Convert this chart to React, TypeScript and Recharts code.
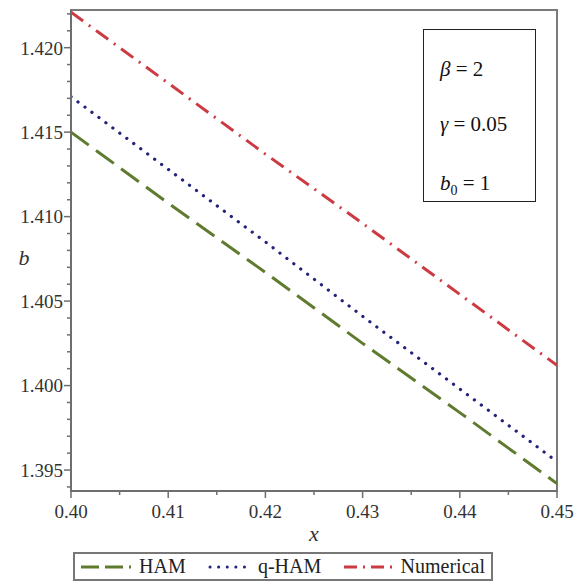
import React from 'react';
import { LineChart, Line, XAxis, YAxis, Legend, ReferenceArea, Label } from 'recharts';

const xValues = [0.40, 0.41, 0.42, 0.43, 0.44, 0.45];
const hamValues = [1.4150, 1.4108, 1.4067, 1.4025, 1.3984, 1.3942];
const qhamValues = [1.4171, 1.4128, 1.4085, 1.4041, 1.3998, 1.3955];
const numericalValues = [1.4221, 1.4179, 1.4137, 1.4096, 1.4054, 1.4012];

const xMajorTicks = [0.40, 0.41, 0.42, 0.43, 0.44, 0.45];
const yMajorTicks = [1.395, 1.400, 1.405, 1.410, 1.415, 1.420];
const xDomain = [0.40, 0.45];
const yDomain = [1.39376, 1.42223];

const data = xValues.map((x, i) => ({
  x,
  HAM: hamValues[i],
  qHAM: qhamValues[i],
  Numerical: numericalValues[i],
}));

// minor ticks: x every 0.005, y every 0.001
const xTicks: number[] = [];
for (let k = 0; k <= 10; k++) xTicks.push(Math.round((0.40 + k * 0.005) * 1000) / 1000);
const yTicks: number[] = [];
for (let k = 0; k <= 28; k++) yTicks.push(Math.round((1.394 + k * 0.001) * 1000) / 1000);

const isMajorX = (v: number) => xMajorTicks.some((t) => Math.abs(t - v) < 1e-6);
const isMajorY = (v: number) => yMajorTicks.some((t) => Math.abs(t - v) < 1e-6);

const FONT = '"Times New Roman", Times, "Liberation Serif", Tinos, "Noto Serif", "DejaVu Serif", serif';
const AXIS = '#6e6e6e';

const COLORS = {
  HAM: '#5f7b2f',
  qHAM: '#23237a',
  Numerical: '#cc3a42',
};

const YTick = (props: any) => {
  const { x, y, payload } = props;
  const v = payload.value;
  const major = isMajorY(v);
  return (
    <g>
      <line x1={x - (major ? 7 : 4)} x2={x} y1={y} y2={y} stroke={AXIS} strokeWidth={1.5} />
      {major && (
        <text x={x - 8} y={y} dy="0.36em" textAnchor="end" style={{ fontFamily: FONT }} fontSize={19} fill="#333">
          {v.toFixed(3)}
        </text>
      )}
    </g>
  );
};

const XTick = (props: any) => {
  const { x, y, payload } = props;
  const v = payload.value;
  const major = isMajorX(v);
  return (
    <g>
      <line x1={x} x2={x} y1={y} y2={y + (major ? 7 : 4)} stroke={AXIS} strokeWidth={1.5} />
      {major && (
        <text x={x} y={y + 27} textAnchor="middle" style={{ fontFamily: FONT }} fontSize={19} fill="#333">
          {v.toFixed(2)}
        </text>
      )}
    </g>
  );
};

const LegendContent = () => {
  const item = (key: string, label: string, dash: string, round: boolean, w: number) => (
    <div key={key} style={{ display: 'flex', alignItems: 'center' }}>
      <svg width={w} height={10} style={{ marginRight: 8 }}>
        <line
          x1={round ? 2 : 0}
          x2={w}
          y1={5}
          y2={5}
          stroke={(COLORS as any)[key]}
          strokeWidth={3}
          strokeDasharray={dash}
          strokeLinecap={round ? 'round' : 'butt'}
        />
      </svg>
      <span>{label}</span>
    </div>
  );
  return (
    <div
      style={{
        boxSizing: 'border-box',
        width: 420,
        height: 29,
        border: '2px solid #777',
        background: '#fff',
        display: 'flex',
        alignItems: 'center',
        justifyContent: 'space-between',
        paddingLeft: 6,
        paddingRight: 6,
        fontFamily: FONT,
        fontSize: 20,
        color: '#222',
        lineHeight: '25px',
      }}
    >
      {item('HAM', 'HAM', '18 6', false, 50)}
      {item('qHAM', 'q-HAM', '0.1 8.5', true, 42)}
      {item('Numerical', 'Numerical', '13 6 2 6', false, 49)}
    </div>
  );
};

export default function App() {
  return (
    <div style={{ position: 'absolute', left: 0, top: 0, width: 579, height: 583, background: '#fff' }}>
      <LineChart
        width={579}
        height={583}
        data={data}
        margin={{ top: 10, right: 22, bottom: 52, left: 8 }}
      >
        <ReferenceArea
          x1={xDomain[0]}
          x2={xDomain[1]}
          y1={yDomain[0]}
          y2={yDomain[1]}
          fill="none"
          stroke="#7a7a7a"
          strokeWidth={2}
          ifOverflow="visible"
        />
        <XAxis
          dataKey="x"
          type="number"
          domain={xDomain}
          ticks={xTicks}
          interval={0}
          allowDataOverflow
          height={40}
          tickSize={0}
          tickMargin={0}
          tickLine={false}
          tick={<XTick />}
          axisLine={{ stroke: AXIS, strokeWidth: 2 }}
        >
          <Label
            content={(p: any) => {
              const vb = p.viewBox;
              return (
                <text
                  x={vb.x + vb.width / 2}
                  y={vb.y + 50}
                  textAnchor="middle"
                  style={{ fontFamily: FONT, fontStyle: 'italic' }}
                  fontSize={22}
                  fill="#333"
                >
                  x
                </text>
              );
            }}
          />
        </XAxis>
        <YAxis
          type="number"
          domain={yDomain}
          ticks={yTicks}
          interval={0}
          allowDataOverflow
          width={63}
          tickSize={0}
          tickMargin={0}
          tickLine={false}
          tick={<YTick />}
          axisLine={{ stroke: AXIS, strokeWidth: 2 }}
        >
          <Label
            content={(p: any) => {
              const vb = p.viewBox;
              return (
                <text
                  x={vb.x + 16}
                  y={vb.y + 255}
                  textAnchor="middle"
                  style={{ fontFamily: FONT, fontStyle: 'italic' }}
                  fontSize={22}
                  fill="#333"
                >
                  b
                </text>
              );
            }}
          />
        </YAxis>
        <Line
          dataKey="HAM"
          name="HAM"
          stroke={COLORS.HAM}
          strokeWidth={3}
          strokeDasharray="22 9"
          dot={false}
          activeDot={false}
          isAnimationActive={false}
          type="linear"
        />
        <Line
          dataKey="qHAM"
          name="q-HAM"
          stroke={COLORS.qHAM}
          strokeWidth={3.2}
          strokeDasharray="0.1 8.6"
          strokeLinecap="round"
          dot={false}
          activeDot={false}
          isAnimationActive={false}
          type="linear"
        />
        <Line
          dataKey="Numerical"
          name="Numerical"
          stroke={COLORS.Numerical}
          strokeWidth={3}
          strokeDasharray="15 7 2 7"
          dot={false}
          activeDot={false}
          isAnimationActive={false}
          type="linear"
        />
        <Legend
          layout="horizontal"
          verticalAlign="middle"
          align="center"
          content={<LegendContent />}
          wrapperStyle={{ position: 'absolute', left: 73, top: 552, width: 420, height: 29 }}
        />
      </LineChart>
      <div
        style={{
          position: 'absolute',
          left: 423,
          top: 29,
          width: 113,
          height: 173,
          boxSizing: 'border-box',
          border: '1.5px solid #222',
          background: '#fff',
          fontFamily: FONT,
          fontSize: 21,
          color: '#111',
        }}
      >
        <div style={{ position: 'absolute', left: 16, top: 26, lineHeight: '26px', whiteSpace: 'nowrap' }}>
          <i>β</i> = 2
        </div>
        <div style={{ position: 'absolute', left: 16, top: 81, lineHeight: '26px', whiteSpace: 'nowrap' }}>
          <i>γ</i> = 0.05
        </div>
        <div style={{ position: 'absolute', left: 16, top: 140, lineHeight: '26px', whiteSpace: 'nowrap' }}>
          <i>b</i>
          <sub style={{ fontSize: 14 }}>0</sub> = 1
        </div>
      </div>
    </div>
  );
}
